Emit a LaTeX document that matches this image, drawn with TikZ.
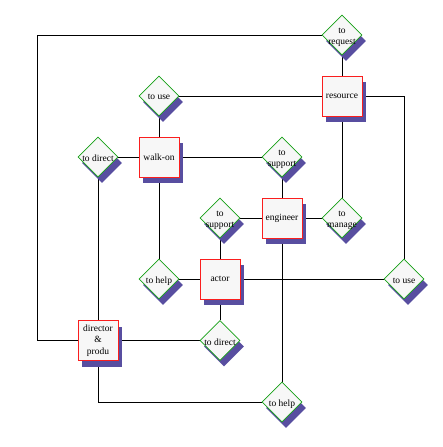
\documentclass[tikz,border=0pt]{standalone}
\usepackage{fontspec}
\setmainfont{Liberation Serif}
\usetikzlibrary{shapes.geometric,shadows,backgrounds}
\definecolor{shadowc}{RGB}{88,78,160}
\definecolor{boxfill}{RGB}{247,247,247}
\definecolor{boxred}{RGB}{250,30,30}
\definecolor{dgreen}{RGB}{20,160,20}
\tikzset{
  ent/.style={rectangle, draw=boxred, line width=0.9pt, fill=boxfill,
    minimum size=40pt, inner sep=0pt, align=center,
    font=\fontsize{9.5}{11.5}\selectfont,
    drop shadow={shadow xshift=4pt, shadow yshift=-6pt, fill=shadowc, opacity=1}},
  rel/.style={diamond, draw=dgreen, line width=0.6pt, fill=boxfill,
    minimum size=40pt, inner sep=0pt,
    drop shadow={shadow xshift=4pt, shadow yshift=-6pt, fill=shadowc, opacity=1}},
  lab/.style={align=center, font=\fontsize{9.5}{11}\selectfont, inner sep=0pt},
  conn/.style={draw=black, line width=0.8pt}
}
\begin{document}
\begin{tikzpicture}[x=1pt,y=-1pt]
\useasboundingbox (0,0) rectangle (443,447);
% relationships (diamonds)
\node[rel] (req) at (342,35) {};
\node[lab] at (342,37) {to\\request};
\node[rel] (use1) at (159,96) {};
\node[lab] at (159,97) {to use};
\node[rel] (dir1) at (98,157) {};
\node[lab] at (98,158) {to direct};
\node[rel] (sup1) at (282,157) {};
\node[lab] at (282,159) {to\\support};
\node[rel] (sup2) at (220,218) {};
\node[lab] at (220,220) {to\\support};
\node[rel] (man) at (342,218) {};
\node[lab] at (342,220) {to\\manage};
\node[rel] (help1) at (159,279) {};
\node[lab] at (159,281) {to help};
\node[rel] (use2) at (404,279) {};
\node[lab] at (404,281) {to use};
\node[rel] (dir2) at (220,340.5) {};
\node[lab] at (220,342) {to direct};
\node[rel] (help2) at (282,402) {};
\node[lab] at (282,404) {to help};
% entities (boxes)
\node[ent] (res) at (342,96) {resource};
\node[ent] (walk) at (159,157) {walk-on};
\node[ent] (eng) at (282,218) {engineer};
\node[ent] (act) at (220,279) {actor};
\node[ent] (dirp) at (98,340.5) {director\\\&\\produ};
\coordinate (c1) at (37,35);
\begin{scope}[on background layer]
\draw[conn] (req) -- (res);
\draw[conn] (req.west) -- (c1) |- (dirp.west);
\draw[conn] (use1) -- (res);
\draw[conn] (res.east) -| (use2.north);
\draw[conn] (use1) -- (walk);
\draw[conn] (res) -- (man);
\draw[conn] (dir1) -- (walk);
\draw[conn] (walk) -- (sup1);
\draw[conn] (sup1) -- (eng);
\draw[conn] (sup2) -- (eng);
\draw[conn] (eng) -- (man);
\draw[conn] (sup2) -- (act);
\draw[conn] (walk) -- (help1);
\draw[conn] (help1) -- (act);
\draw[conn] (act) -- (use2);
\draw[conn] (eng) -- (help2);
\draw[conn] (dir1) -- (dirp);
\draw[conn] (dirp) -- (dir2);
\draw[conn] (act) -- (dir2);
\draw[conn] (dirp.south) |- (help2.west);
\end{scope}
\end{tikzpicture}
\end{document}
